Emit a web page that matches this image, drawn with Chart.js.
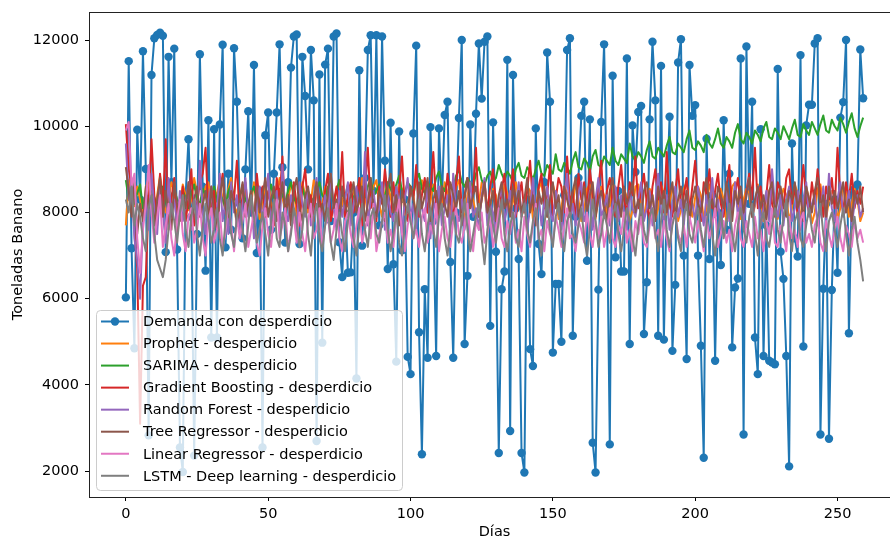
<!DOCTYPE html>
<html><head><meta charset="utf-8">
<script src="https://cdn.jsdelivr.net/npm/chart.js@4.4.1/dist/chart.umd.min.js"></script>
<style>html,body{margin:0;padding:0;overflow:hidden;width:890px;height:541px;background:#fff}
canvas{position:absolute;left:0;top:0}</style></head>
<body><canvas id="c" width="905" height="541"></canvas>
<script>
const demanda = [
6030,11510,7170,4850,9920,8300,11740,9010,2830,11190,
12040,12120,12170,12100,7080,11610,8700,11800,7140,2550,
1980,8400,9700,7900,2360,7500,11670,8600,6650,10140,
5100,9930,5100,10040,11890,7190,8900,7600,11810,10570,
8200,7400,9000,10350,8000,11420,7060,8500,2550,9790,
10320,7600,8900,10320,11900,9050,7300,8700,11360,12080,
12130,7270,11610,10700,9000,11770,10600,2700,11200,4980,
11430,11800,7800,12080,12150,7310,6500,8200,6600,6610,
8000,4150,11300,7230,8800,11770,12110,8500,12110,7700,
12080,9200,6690,10080,6800,4540,9880,7120,8300,4650,
4250,9830,11870,5220,2390,6220,4630,9980,7800,4670,
9950,8200,10260,10570,6850,4630,8000,10190,12000,4950,
6530,10040,7900,10290,11920,10640,11960,12080,5370,10090,
7090,2420,6220,6630,11540,2930,11190,8100,6920,2420,
1970,8300,4830,4440,9950,7270,6570,8700,11710,10570,
4750,6340,6340,5000,8400,11770,12040,5140,7900,8800,
10240,10570,6880,10160,2660,1970,6210,10100,11900,8200,
2620,11170,6960,8500,6630,6630,11570,4950,10020,8940,
10330,10470,5180,6380,10160,11960,10600,5140,11400,5050,
8300,10220,4790,6320,11480,12020,7000,4600,11420,10240,
10490,7000,4910,2310,9710,6920,8400,4560,8000,6780,
10140,7600,8900,4870,6260,6470,11570,2850,11850,8200,
10570,5100,4250,9930,4670,7700,4560,4520,4480,11330,
7090,6460,4670,2110,9600,7400,6980,11650,4890,10020,
10500,10500,11920,12040,2850,6230,8200,2750,6200,8300,
6600,10200,10560,12000,5200,8400,8550,8650,11780,10650];

const prophet = [
7700,8750,8400,8150,8600,8300,7950,8550,8800,8250,
7950,8400,8850,8350,8000,8250,8700,8500,7900,8150,
8650,8400,8050,8300,8800,8450,7950,8200,8600,8700,
8150,7900,8450,8750,8300,8050,8550,8800,8200,7950,
8350,8650,8500,8000,8200,8700,8450,7850,8150,8600,
8750,8250,7950,8400,8800,8350,8050,8300,8650,8550,
7900,8150,8700,8400,8000,8250,8750,8500,7950,8200,
8600,8450,7850,8100,8550,8700,8300,7900,8350,8650,
8500,8050,8250,8800,8400,7950,8150,8600,8750,8200,
7900,8450,8700,8350,8000,8300,8650,8550,7950,8100,
8600,8400,7850,8200,8750,8500,8000,8250,8650,8350,
7900,8150,8700,8450,7950,8300,8600,8750,8100,7850,
8400,8650,8300,7950,8200,8700,8500,7900,8150,8550,
8400,7800,8100,8650,8450,7950,8250,8700,8350,7900,
8150,8600,8500,7850,8050,8550,8700,8200,7900,8300,
8650,8400,7850,8100,8600,8450,7900,8200,8700,8300,
7800,8050,8550,8650,8150,7850,8350,8600,8400,7900,
8150,8700,8450,7850,8100,8550,8350,7800,8050,8600,
8650,8200,7900,8300,8550,8400,7850,8100,8650,8450,
7950,8200,8600,8300,7800,8050,8550,8700,8150,7900,
8350,8600,8400,7850,8100,8650,8450,7900,8200,8550,
8300,7800,8050,8600,8700,8150,7850,8300,8550,8450,
7900,8150,8650,8350,7800,8050,8500,8600,8200,7850,
8250,8550,8400,7800,8100,8650,8450,7900,8150,8600,
8300,7750,8000,8550,8650,8200,7850,8300,8500,8400,
7850,8100,8600,8450,7900,8200,8550,8300,7800,8000];

const sarima = [
8750,8300,8550,8200,8450,8650,8100,8400,8250,8500,
8350,8150,8450,8600,8250,8050,8400,8550,8300,8200,
8500,8350,8100,8450,8650,8300,8200,8550,8400,8150,
8350,8600,8250,8450,8300,8100,8500,8650,8350,8200,
8400,8550,8300,8150,8450,8600,8250,8350,8500,8200,
8450,8650,8300,8200,8550,8400,8250,8500,8700,8350,
8200,8450,8600,8300,8500,8350,8250,8550,8700,8400,
8300,8600,8450,8250,8500,8750,8400,8350,8650,8500,
8300,8550,8700,8450,8350,8600,8800,8400,8500,8650,
8450,8350,8700,8550,8400,8650,8850,8500,8450,8700,
8600,8400,8750,8900,8550,8450,8700,8600,8500,8800,
8950,8600,8500,8750,8650,8550,8850,9000,8700,8600,
8800,8700,8600,8900,9050,8750,8650,8850,8950,8700,
8800,9100,8900,8750,8950,8850,8700,9000,9150,8850,
8800,9050,8950,8750,9000,9200,8900,8850,9100,9000,
8900,9350,9000,8950,9150,9050,8900,9200,9400,9050,
9000,9250,9150,8950,9300,9450,9100,9050,9300,9200,
9100,9500,9200,9100,9350,9250,9150,9600,9300,9200,
9400,9300,9150,9450,9650,9300,9250,9500,9400,9300,
9550,9750,9400,9350,9600,9500,9400,9700,9900,9500,
9450,9650,9550,9400,9800,9600,9500,9700,9950,9600,
9500,9750,9650,9500,9850,10050,9700,9600,9850,9750,
9600,9900,9800,9650,9950,10100,9750,9700,9950,9850,
9700,10000,9850,9700,9950,10150,9800,9750,10050,9900,
9800,10100,9950,9800,10050,10250,9900,9850,10150,10000,
9900,10200,10050,9850,10100,10300,9950,9750,10000,10200];

const gradientBoosting = [
10050,9000,8600,7600,6700,3100,6300,6500,8200,9700,
8400,7700,8900,8100,9700,7600,8300,8800,7500,8000,
8600,7800,8300,9000,7700,8200,8700,8900,9500,7900,
8100,8500,7600,8400,8900,8000,7700,8600,8300,9200,
7800,8400,8700,8000,8300,7600,8900,8200,8600,7900,
8500,8100,7700,8800,8300,9300,7900,8400,8000,8700,
8200,7700,8600,9000,8100,8400,7800,8700,8300,8000,
8500,8900,7800,8200,8600,8100,9400,7900,8400,8700,
8000,8300,8800,7700,8500,9500,8100,8300,7800,8600,
8200,9000,8400,7900,8700,8000,8500,9300,8100,7800,
8600,8300,9100,7900,8400,8800,8000,8500,9400,8200,
7900,8600,8100,8900,8300,7800,8700,9300,8000,8400,
8800,8100,8500,9500,7900,8300,8700,8000,8600,9000,
8200,7800,8500,8900,8100,8400,9000,7900,8300,8700,
8000,8500,9200,8200,7800,8600,8900,8100,8400,9100,
7900,8300,8800,8600,8000,9300,8200,8500,7800,8900,
8300,8700,8100,9000,8400,7900,8600,9200,8000,8500,
8800,8200,7900,8600,9100,8300,8000,8700,8400,9300,
8100,8500,8900,8200,7800,8600,9000,8300,8700,8000,
9400,8200,7900,8500,9000,8100,8400,8800,8000,8600,
9200,8300,7800,8700,8400,9000,8100,8500,8900,8200,
7900,8600,9100,8000,8400,8800,8200,7800,8500,8900,
8300,9500,8100,8600,8000,8400,9100,8200,7900,8700,
8500,8100,8800,9000,8200,8600,7900,8400,9100,8300,
8000,8700,8200,9000,8400,7900,8600,8300,8800,8100,
9500,8400,8000,8700,8300,8900,8100,8500,8200,8600];

const randomForest = [
9600,8300,8800,7400,6900,6000,7800,8400,7600,8900,
8100,7500,8600,8000,7300,8800,7900,8300,7700,8500,
7800,8200,8700,7600,8400,7900,9200,8000,7500,8300,
8600,7700,8100,8900,7800,8300,7500,8700,8000,8400,
7600,8200,8800,7900,8500,7400,8100,8600,7800,8300,
8900,7700,8200,8500,7600,9100,8000,7800,8400,8100,
7500,8700,8200,7900,8600,7700,8300,8800,7600,8000,
8400,7800,8900,8100,7600,8500,7900,8300,8700,7700,
8200,8600,7800,8000,9400,7700,8300,8500,7900,8100,
8700,7600,8400,8000,7800,8600,8200,7500,8300,8800,
7900,8200,7600,8500,8100,7800,8700,7400,8300,8000,
8600,7700,8100,8400,7500,8900,8000,7800,8300,7600,
8200,8700,7900,8100,7600,8400,8800,7700,8200,8000,
7500,8300,8600,7800,8100,8500,7700,8000,8700,7900,
8300,7600,8100,8800,7900,8400,7700,8200,8600,8000,
7800,8500,8100,7600,8300,8900,7900,8200,7700,8400,
8700,7800,8000,8500,7600,8300,8800,7900,8100,8400,
7700,8200,8600,7800,8400,8000,7600,8500,8100,7900,
8300,8700,7800,8100,8500,7700,8200,8900,8000,7800,
8400,7600,8200,8600,7900,8300,7700,8500,8000,8200,
7800,8600,8100,7700,8400,8000,8800,7900,8300,7600,
8200,8500,7800,8100,8700,7900,8300,7700,8400,8800,
7900,8200,8600,7700,8100,8500,7800,9000,8200,7900,
8400,7700,8300,8600,7800,8100,8500,7600,8300,8700,
7900,8200,8400,7700,8000,8600,7800,8900,8100,7800,
8300,8700,7900,8100,8500,7700,8200,8400,7900,8100];

const treeRegressor = [
9050,8500,7900,8700,7500,8200,7800,8600,8100,8400,
7700,8300,8800,7900,8500,8000,7600,8700,8200,7800,
8400,8100,8700,7700,8300,8600,7900,8200,8500,7800,
8600,8000,7700,8400,8800,8100,7900,8500,8200,7700,
8300,8700,7900,8200,8500,7800,8600,8000,8400,8800,
7900,8300,8600,7800,8200,8700,8000,8400,7700,8500,
8800,8100,7800,8400,8600,7900,8300,8700,8000,8200,
7800,8500,8900,8100,8300,7700,8600,8200,7900,8400,
8700,8000,8300,8600,7800,8200,8800,8100,7900,8500,
8300,7800,8600,8900,8000,8400,7700,8500,8200,8000,
8600,8300,7900,8700,8100,8400,8800,7800,8300,8500,
8000,8600,8200,7900,8700,8400,8100,8500,7700,8300,
8800,8100,8400,8600,7900,8300,8700,8000,8200,8500,
7800,8400,8700,8100,8300,7900,8600,8200,8500,8000,
8300,8800,8000,8400,7700,8500,8200,8600,7900,8300,
8700,8100,8400,7800,8600,8300,8000,8500,8800,7900,
8200,8600,8000,8400,8700,7900,8300,8500,8100,7800,
8500,8800,8100,8300,7900,8600,8200,8400,8700,8000,
8300,7900,8500,8700,8100,8400,7800,8600,8200,8500,
8000,8400,8700,7900,8300,8600,8100,8500,7800,8300,
8600,8200,8000,8500,8800,8100,8300,7900,8600,8400,
8100,8700,8300,7800,8500,8200,8600,8000,8400,8800,
7900,8300,8600,8100,8400,7800,8500,8700,8000,8300,
8600,8200,7900,8500,8300,8700,8100,8400,7800,8600,
8300,8000,8500,8800,8100,8400,7900,8600,8200,8500,
8100,8400,8700,8000,8300,7800,8500,8200,8600,8000];

const linearRegressor = [
9900,10100,8600,8900,7400,6600,7600,8200,9100,8000,
7300,7900,8400,7200,7700,8200,7400,7000,7800,8300,
7500,7100,7900,8100,7300,7600,8200,7400,7000,7800,
8100,7300,7600,8000,7200,7500,8300,7700,7100,7900,
7400,7800,8200,7200,7600,8000,7300,7000,7700,8100,
7500,7200,7900,8300,7400,7700,8100,7100,7600,7900,
7300,8000,7500,7100,7800,8200,7400,7600,8100,7200,
7700,7900,7300,7600,8200,7400,7100,7800,8000,7500,
7200,7700,8100,7300,7600,7900,7400,8200,7100,7500,
7800,8000,7300,7600,7200,7900,8300,7500,7100,7700,
8000,7400,7600,7200,7900,8100,7300,7700,7500,8200,
7100,7600,7900,7400,7200,7800,8100,7500,7300,7700,
8200,7400,7100,7800,7600,8000,7300,7500,7900,7200,
7600,8100,7400,7200,7800,7500,8000,7300,7600,7100,
7900,7500,7200,7700,8200,7400,7600,7100,7800,7500,
7300,7900,7600,7200,7700,8100,7400,7500,7100,7800,
7600,7300,8000,7500,7200,7800,7400,7900,7200,7600,
8100,7400,7200,7700,7500,8000,7300,7600,7100,7800,
7500,7900,7300,7200,7700,8100,7400,7600,7200,7800,
7400,7100,7800,8000,7500,7300,7700,7200,7900,7600,
7300,7800,7500,7100,7900,7400,7700,8100,7200,7500,
7800,7300,7600,7100,7700,8000,7400,7200,7800,7500,
7200,7900,7400,7600,7100,7800,7500,8100,7300,7200,
7700,7500,7100,7900,7400,7600,7200,7800,8000,7300,
7500,7200,7700,7900,7300,7100,7800,7500,7200,7600,
7900,7400,7100,7700,7500,7200,7800,7400,7600,7300];

const lstm = [
8300,8000,8600,7700,8200,7900,7400,7100,8100,8400,
7500,6900,6700,6500,6900,7600,8200,7800,7300,8000,
8400,7600,7200,7900,8300,7500,7000,7700,8200,7800,
7300,7600,8100,7400,7000,7800,8300,7500,7200,7900,
8200,7600,7100,7700,8400,7900,7300,7600,8000,7500,
7000,7800,8300,7400,7200,8000,7700,7100,7500,8100,
7800,7200,7600,8300,7500,7000,7900,8200,7400,7100,
7700,8100,7300,6900,7600,8000,7500,7100,7800,8300,
7400,7000,7700,8200,7600,7200,7900,8100,7500,7300,
7800,8400,7600,7100,7500,8000,7300,7000,7700,8200,
7800,7400,7900,8300,7500,7100,7700,8100,7600,7200,
7900,8200,7400,7000,7700,8000,7500,7300,7800,8300,
7600,7100,7500,7900,8200,7400,6800,7600,8100,7700,
7300,7800,8300,7500,7100,7700,8000,7400,7200,7900,
8200,7600,7300,7800,8100,7500,7000,7700,8300,7600,
7200,7900,8200,7400,7100,7800,8000,7500,7300,7700,
8100,7400,7000,7600,8300,7800,7200,7500,8000,7700,
7300,7900,8200,7500,7100,7600,8100,7800,7400,7000,
7700,8200,7600,7300,7900,8100,7500,7100,7800,8300,
7600,7200,7700,8000,7400,7100,7900,8200,7500,7300,
7800,8100,7600,7200,7700,8300,7500,7000,7600,8000,
7400,7800,8200,7500,7100,7700,8100,7600,7300,7900,
8200,7500,7000,7800,8000,7400,7200,7700,8100,7600,
7300,7900,8300,7500,7100,7800,8000,7400,7200,7700,
8100,7600,7300,7900,8200,7500,7100,7800,8000,7600,
7200,7700,8100,7500,7000,7600,7900,7300,6900,6400];

const seriesNames = [
  'Demanda con desperdicio',
  'Prophet - desperdicio',
  'SARIMA - desperdicio',
  'Gradient Boosting - desperdicio',
  'Random Forest - desperdicio',
  'Tree Regressor - desperdicio',
  'Linear Regressor - desperdicio',
  'LSTM - Deep learning - desperdicio'
];
const seriesColors = ['#1f77b4','#ff7f0e','#2ca02c','#d62728','#9467bd','#8c564b','#e377c2','#7f7f7f'];
const xTickValues = [0, 50, 100, 150, 200, 250];
const yTickValues = [2000, 4000, 6000, 8000, 10000, 12000];
const xAxisTitle = 'Días';
const yAxisTitle = 'Toneladas Banano';

const FS = 14.5;
const days = demanda.map((_, i) => i);
const allSeries = [demanda, prophet, sarima, gradientBoosting, randomForest, treeRegressor, linearRegressor, lstm];

const datasets = allSeries.map((vals, k) => ({
  label: seriesNames[k],
  data: days.map((d, i) => ({ x: d, y: vals[i] })),
  borderColor: seriesColors[k],
  backgroundColor: seriesColors[k],
  borderWidth: 2,
  pointRadius: k === 0 ? 4.2 : 0,
  pointBorderWidth: 0,
  pointHoverRadius: 0,
  tension: 0,
  fill: false,
  borderJoinStyle: 'round',
  order: allSeries.length - 1 - k
}));

const framePlugin = {
  id: 'frame',
  afterDatasetsDraw(chart) {
    const a = chart.chartArea, ctx = chart.ctx;
    ctx.save();
    ctx.strokeStyle = '#222';
    ctx.lineWidth = 1;
    ctx.strokeRect(Math.round(a.left) + 0.5, Math.round(a.top) + 0.5,
                   Math.round(a.right - a.left), Math.round(a.bottom - a.top));
    ctx.restore();
  }
};

const legendPlugin = {
  id: 'mplLegend',
  afterDraw(chart) {
    const ctx = chart.ctx, a = chart.chartArea;
    const w = 306, h = 180;
    const x = Math.round(a.left) + 7, y = Math.round(a.bottom) - 7 - h;
    ctx.save();
    ctx.beginPath();
    ctx.roundRect(x + 0.5, y + 0.5, w, h, 4);
    ctx.fillStyle = 'rgba(255,255,255,0.8)';
    ctx.fill();
    ctx.strokeStyle = '#cccccc';
    ctx.lineWidth = 1;
    ctx.stroke();
    ctx.font = FS + 'px "DejaVu Sans"';
    ctx.textBaseline = 'middle';
    ctx.textAlign = 'left';
    chart.data.datasets.forEach((ds, i) => {
      const cy = y + 11.5 + i * 22.04;
      ctx.strokeStyle = ds.borderColor;
      ctx.lineWidth = 2;
      ctx.beginPath();
      ctx.moveTo(x + 5, cy);
      ctx.lineTo(x + 33, cy);
      ctx.stroke();
      if (ds.pointRadius > 0) {
        ctx.fillStyle = ds.backgroundColor;
        ctx.beginPath();
        ctx.arc(x + 19, cy, 4.2, 0, Math.PI * 2);
        ctx.fill();
      }
      ctx.fillStyle = '#000';
      ctx.fillText(ds.label, x + 47, cy + 1);
    });
    ctx.restore();
  }
};

Chart.defaults.font.family = '"DejaVu Sans", sans-serif';
Chart.defaults.font.size = FS;
Chart.defaults.color = '#000';

new Chart(document.getElementById('c'), {
  type: 'line',
  data: { datasets },
  options: {
    responsive: false,
    animation: false,
    devicePixelRatio: 1,
    events: [],
    layout: { padding: { left: 0, top: 12, right: 5, bottom: 0 } },
    plugins: { legend: { display: false }, tooltip: { enabled: false } },
    scales: {
      x: {
        type: 'linear',
        min: -12.95,
        max: 271.95,
        afterBuildTicks(s) { s.ticks = xTickValues.map(v => ({ value: v })); },
        afterFit(s) { s.height = 44; s.paddingLeft = 0; s.paddingRight = 0; },
        grid: { drawOnChartArea: false, drawTicks: true, tickLength: 4, color: '#000', tickColor: '#000' },
        border: { display: false },
        ticks: { color: '#000', padding: 5, maxRotation: 0, autoSkip: false, font: { size: FS },
                 callback: v => String(v) },
        title: { display: true, text: xAxisTitle, color: '#000', font: { size: FS }, padding: { top: 0, bottom: 0 } }
      },
      y: {
        type: 'linear',
        min: 1400,
        max: 12650,
        afterBuildTicks(s) { s.ticks = yTickValues.map(v => ({ value: v })); },
        afterFit(s) { s.width = 89; s.paddingTop = 0; s.paddingBottom = 0; },
        grid: { drawOnChartArea: false, drawTicks: true, tickLength: 4, color: '#000', tickColor: '#000' },
        border: { display: false },
        ticks: { color: '#000', padding: 6, autoSkip: false, font: { size: FS },
                 callback: v => String(v) },
        title: { display: true, text: yAxisTitle, color: '#000', font: { size: FS }, padding: { top: 10, bottom: 0 } }
      }
    }
  },
  plugins: [framePlugin, legendPlugin]
});
</script>
</body></html>
